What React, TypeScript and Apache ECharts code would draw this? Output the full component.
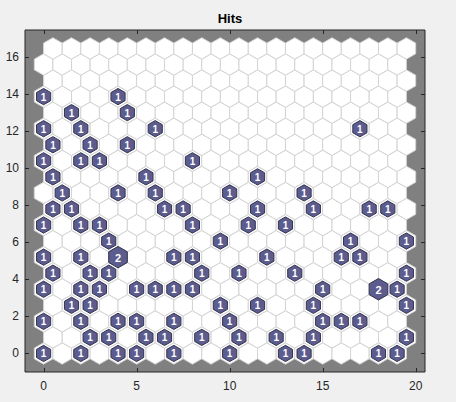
import React, { useEffect, useRef } from "react";
import * as echarts from "echarts";

// SOM grid dimensions (hexagonal topology, 20 x 20 neurons)
const gridCols = 20;
const gridRows = 20;

// Hit positions per grid row (column indices of neurons with hits)
const hitsRow0 = [0, 2, 4, 5, 7, 10, 13, 14, 18, 19];
const hitsRow1 = [2, 3, 5, 6, 8, 10, 12, 14, 19];
const hitsRow2 = [0, 2, 4, 5, 7, 10, 15, 16, 17];
const hitsRow3 = [1, 2, 9, 11, 14, 19];
const hitsRow4 = [0, 2, 3, 5, 6, 7, 8, 15, 18, 19];
const hitsRow5 = [0, 2, 3, 8, 10, 13, 19];
const hitsRow6 = [0, 2, 4, 7, 8, 12, 16, 17];
const hitsRow7 = [3, 9, 16, 19];
const hitsRow8 = [0, 2, 3, 8, 11, 13];
const hitsRow9 = [0, 1, 6, 7, 11, 14, 17, 18];
const hitsRow10 = [1, 4, 6, 10, 14];
const hitsRow11 = [0, 5, 11];
const hitsRow12 = [0, 2, 3, 8];
const hitsRow13 = [0, 2, 4];
const hitsRow14 = [0, 2, 6, 17];
const hitsRow15 = [1, 4];
const hitsRow16 = [0, 4];
const hitsByRow = [
  hitsRow0, hitsRow1, hitsRow2, hitsRow3, hitsRow4, hitsRow5, hitsRow6, hitsRow7,
  hitsRow8, hitsRow9, hitsRow10, hitsRow11, hitsRow12, hitsRow13, hitsRow14,
  hitsRow15, hitsRow16,
];
// Neurons with two hits: [column, row]
const doubleHits = [
  [4, 6],
  [18, 4],
];

const xTicks = [0, 5, 10, 15, 20];
const yTicks = [0, 2, 4, 6, 8, 10, 12, 14, 16];
const xMin = -1;
const xMax = 20.5;
const yMin = -1;
const yMax = 17.45;

const H = Math.sqrt(3) / 2;
const R = 1 / Math.sqrt(3);

function cellPos(i: number, j: number): [number, number] {
  return [i + (j % 2 === 1 ? 0.5 : 0), j * H];
}

function hexPoints(api: any, x: number, y: number, scale: number) {
  const c = api.coord([x, y]);
  const s = api.size([1, 1]);
  const pts: number[][] = [];
  for (let k = 0; k < 6; k++) {
    const a = Math.PI / 2 + (k * Math.PI) / 3;
    pts.push([c[0] + R * scale * Math.cos(a) * s[0], c[1] - R * scale * Math.sin(a) * s[1]]);
  }
  return { c, pts };
}

export default function App() {
  const ref = useRef<HTMLDivElement>(null);
  useEffect(() => {
    if (!ref.current) return;
    const chart = echarts.init(ref.current, undefined, { renderer: "svg" });

    const cells: number[][] = [];
    for (let j = 0; j < gridRows; j++) {
      for (let i = 0; i < gridCols; i++) {
        const [x, y] = cellPos(i, j);
        cells.push([x, y]);
      }
    }
    const hits: number[][] = [];
    hitsByRow.forEach((cols, j) => {
      cols.forEach((i) => {
        const dbl = doubleHits.some((d) => d[0] === i && d[1] === j);
        const [x, y] = cellPos(i, j);
        hits.push([x, y, dbl ? 2 : 1]);
      });
    });
    const maxHits = Math.max(...hits.map((h) => h[2]));

    const ticks: number[][] = [];
    xTicks.forEach((v) => ticks.push([0, v]));
    yTicks.forEach((v) => ticks.push([1, v]));

    const axisColor = "#262626";
    const font = "Liberation Sans, Arial, Helvetica, sans-serif";
    const tickLen = 4;

    chart.setOption({
      animation: false,
      backgroundColor: "#f0f0f0",
      title: {
        text: "Hits",
        left: 225,
        top: 7,
        textAlign: "center",
        textStyle: { fontSize: 13, fontWeight: "bold", color: "#000", fontFamily: font },
      },
      grid: {
        left: 25,
        top: 30,
        width: 400,
        height: 342,
        show: true,
        backgroundColor: "#808080",
        borderColor: axisColor,
        borderWidth: 1,
      },
      xAxis: {
        type: "value",
        min: xMin,
        max: xMax,
        position: "bottom",
        axisLine: { show: false },
        splitLine: { show: false },
        axisTick: { show: false },
        axisLabel: { show: true, customValues: xTicks, margin: 8, fontSize: 12, color: axisColor, fontFamily: font },
      },
      yAxis: {
        type: "value",
        min: yMin,
        max: yMax,
        position: "left",
        axisLine: { show: false },
        splitLine: { show: false },
        axisTick: { show: false },
        axisLabel: { show: true, customValues: yTicks, margin: 6, fontSize: 12, color: axisColor, fontFamily: font },
      },
      series: [
        {
          type: "custom",
          data: cells,
          silent: true,
          z: 2,
          renderItem: (params: any, api: any) => {
            const { pts } = hexPoints(api, api.value(0), api.value(1), 1);
            return {
              type: "polygon",
              shape: { points: pts },
              style: { fill: "#ffffff", stroke: "#d4d4d4", lineWidth: 1 },
            };
          },
        },
        {
          type: "custom",
          data: hits,
          silent: true,
          z: 3,
          renderItem: (params: any, api: any) => {
            const n = api.value(2);
            const scale = n >= maxHits ? 1 : 0.76;
            const { c, pts } = hexPoints(api, api.value(0), api.value(1), scale);
            return {
              type: "group",
              children: [
                {
                  type: "polygon",
                  shape: { points: pts },
                  style: { fill: "#5c5c8e", stroke: "#34344f", lineWidth: 1 },
                },
                {
                  type: "text",
                  x: c[0],
                  y: c[1] + 0.5,
                  style: {
                    text: String(n),
                    fill: "#ffffff",
                    font: `bold ${n >= maxHits ? 11 : 10}px ${font}`,
                    align: "center",
                    verticalAlign: "middle",
                  },
                },
              ],
            };
          },
        },
        {
          // box tick marks on all four sides, placed through the axes' scales
          type: "custom",
          data: ticks,
          silent: true,
          clip: false,
          z: 5,
          renderItem: (params: any, api: any) => {
            const isY = api.value(0) === 1;
            const v = api.value(1);
            const lo = api.coord([xMin, yMin]);
            const hi = api.coord([xMax, yMax]);
            const style = { stroke: axisColor, lineWidth: 1 };
            if (!isY) {
              const p = Math.round(api.coord([v, yMin])[0]) + 0.5;
              return {
                type: "group",
                children: [
                  { type: "line", shape: { x1: p, y1: lo[1], x2: p, y2: lo[1] - tickLen }, style },
                  { type: "line", shape: { x1: p, y1: hi[1], x2: p, y2: hi[1] + tickLen }, style },
                ],
              };
            }
            const q = Math.round(api.coord([xMin, v])[1]) + 0.5;
            return {
              type: "group",
              children: [
                { type: "line", shape: { x1: lo[0], y1: q, x2: lo[0] + tickLen, y2: q }, style },
                { type: "line", shape: { x1: hi[0], y1: q, x2: hi[0] - tickLen, y2: q }, style },
              ],
            };
          },
        },
      ],
    });
    return () => chart.dispose();
  }, []);
  return (
    <div
      ref={ref}
      style={{ position: "absolute", left: 0, top: 0, width: 456, height: 402 }}
    />
  );
}
